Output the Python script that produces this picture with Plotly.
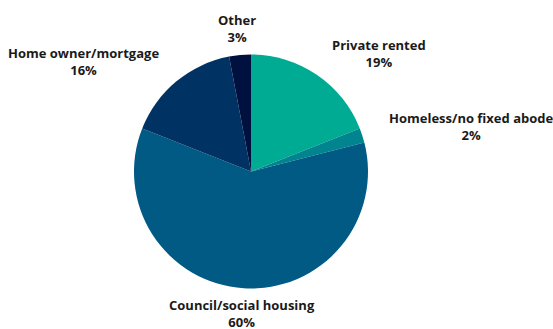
import plotly.graph_objects as go

# Housing tenure breakdown
labels = ["Private rented", "Homeless/no fixed abode", "Council/social housing",
          "Home owner/mortgage", "Other"]
values = [19, 2, 60, 16, 3]
colors = ["#00AB93", "#00848F", "#005A84", "#003263", "#00103F"]

W, H = 553, 329
cx, cy, r = 251, 171.5, 117

# label block centres (pixels)
label_pos = [(379, 53.5), (471, 126), (242, 313.5), (83, 62), (237, 29)]

fig = go.Figure(go.Pie(
    labels=labels,
    values=values,
    sort=False,
    direction="clockwise",
    rotation=0,
    marker=dict(colors=colors, line=dict(width=0)),
    textinfo="none",
    hoverinfo="label+percent",
    showlegend=False,
    domain=dict(x=[(cx - r) / W, (cx + r) / W], y=[(H - cy - r) / H, (H - cy + r) / H]),
))

total = sum(values)
for lab, val, (px, py) in zip(labels, values, label_pos):
    fig.add_annotation(
        x=px / W, y=1 - py / H, xref="paper", yref="paper",
        xanchor="center", yanchor="middle",
        text=f"<b>{lab}<br>{round(100 * val / total)}%</b>",
        showarrow=False, align="center", borderpad=0,
        font=dict(family="Open Sans", size=13, color="#1a1a1a"),
    )

fig.update_layout(
    width=W, height=H,
    margin=dict(l=0, r=0, t=0, b=0),
    paper_bgcolor="white", plot_bgcolor="white",
)

fig.write_html("out.html")
